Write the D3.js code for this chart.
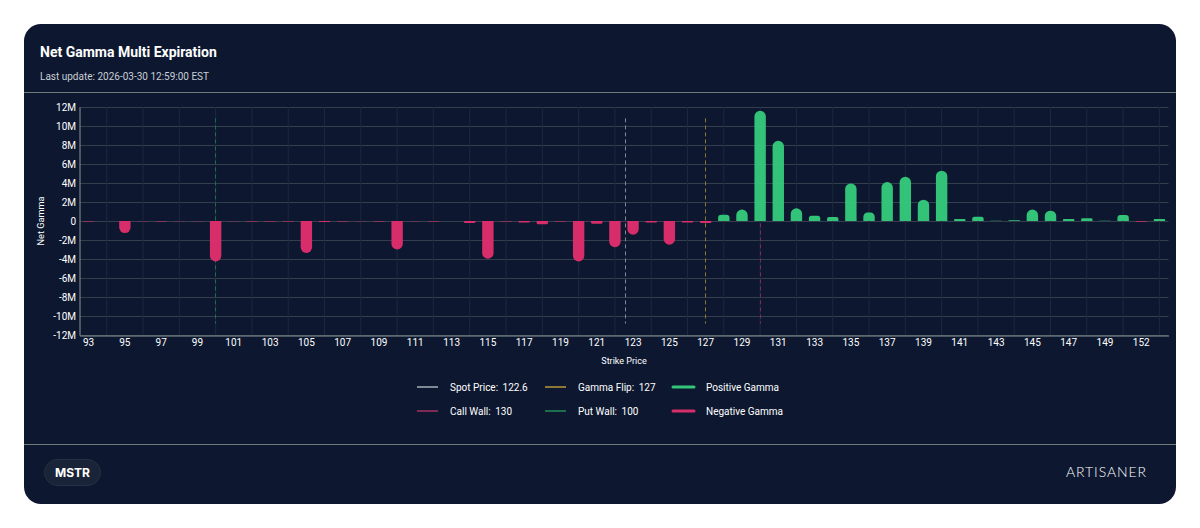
<!DOCTYPE html>
<html>
<head>
<meta charset="utf-8">
<script src="https://cdn.jsdelivr.net/npm/d3@7"></script>
<style>
html,body{margin:0;padding:0;background:#fff;overflow:hidden}
text{font-family:Roboto,sans-serif}
</style>
</head>
<body>
<script>
//values, gamma in millions
const strikes=[93,94,95,96,97,98,99,100,101,102,103,104,105,106,107,108,109,110,111,112,113,114,115,116,117,118,119,120,121,122,123,124,125,126,127,128,129,130,131,132,133,134,135,136,137,138,139,140,141,142,143,144,145,146,147,148,149,150,152,155]
const netGamma=[-0.05,0,-1.27,-0.03,-0.05,-0.03,-0.03,-4.25,-0.02,-0.05,-0.05,-0.05,-3.37,-0.1,-0.06,-0.02,-0.04,-3.0,-0.03,-0.05,0,-0.2,-3.97,-0.05,-0.15,-0.35,-0.05,-4.25,-0.3,-2.75,-1.45,-0.15,-2.5,-0.15,-0.2,0.66,1.2,11.6,8.45,1.33,0.56,0.42,3.96,0.9,4.1,4.65,2.25,5.3,0.2,0.45,0.02,0.08,1.2,1.08,0.2,0.3,0.02,0.62,-0.07,0.2]
const yTicks=[-12,-10,-8,-6,-4,-2,0,2,4,6,8,10,12]
const refLines=[
	{name:"Spot Price",value:122.6,color:"#7f8896"},
	{name:"Gamma Flip",value:127,color:"#8c7734"},
	{name:"Call Wall",value:130,color:"#7d2a55"},
	{name:"Put Wall",value:100,color:"#1c6f4c"},
]
const legendRows=[
	[refLines[0],refLines[1],{name:"Positive Gamma",color:"#33c578",thick:true}],
	[refLines[2],refLines[3],{name:"Negative Gamma",color:"#d92d6a",thick:true}],
]

const width=1200,height=528
const svg=d3.select("body").append("svg").attr("width",width).attr("height",height).style("display","block")

//card
svg.append("rect").attr("x",24).attr("y",24).attr("width",1152).attr("height",480).attr("rx",17).attr("fill","#0d1830")
svg.append("text").attr("x",40).attr("y",57).text("Net Gamma Multi Expiration")
	.attr("fill","#fff").attr("font-size",14).attr("font-weight",700)
svg.append("text").attr("x",40).attr("y",80).text("Last update: 2026-03-30 12:59:00 EST")
	.attr("fill","#c9ced6").attr("font-size",10)
for(const y of [92.5,444.5]){
	svg.append("line").attr("x1",24).attr("x2",1176).attr("y1",y).attr("y2",y).attr("stroke","#6f7c7c").attr("stroke-width",1)
}

const x=d3.scaleBand().domain(strikes).range([79.5,1168.5])
const y=d3.scaleLinear().domain([-12,12]).range([335,107])
const center=(s)=>x(s)+x.bandwidth()/2

//spot price sits between two strikes
function xValue(v){
	const i=d3.bisectLeft(strikes,v)
	if(strikes[i]==v){return center(v)}
	const a=strikes[i-1],b=strikes[i]
	return center(a)+(v-a)/(b-a)*(center(b)-center(a))
}

//grid
svg.append("g").selectAll("line").data(yTicks).join("line")
	.attr("x1",79.5).attr("x2",1168.5)
	.attr("y1",(d)=>Math.round(y(d))+0.5).attr("y2",(d)=>Math.round(y(d))+0.5)
	.attr("stroke","#343f4d").attr("stroke-width",1)
svg.append("g").selectAll("line").data(strikes.filter((d,i)=>i%2==1)).join("line")
	.attr("x1",(d)=>center(d)).attr("x2",(d)=>center(d))
	.attr("y1",107).attr("y2",335)
	.attr("stroke","#1d293c").attr("stroke-width",1)

//axes
const axisX=svg.append("g").attr("transform","translate(0,335.5)")
	.call(d3.axisBottom(x).tickValues(strikes.filter((d,i)=>i%2==0)).tickSize(0).tickPadding(3))
const axisY=svg.append("g").attr("transform","translate(79.5,0)")
	.call(d3.axisLeft(y).tickValues(yTicks).tickSize(0).tickPadding(3.5).tickFormat((d)=>d==0?"0":d+"M"))
for(const axis of [axisX,axisY]){
	axis.attr("font-family","Roboto,sans-serif")
	axis.select(".domain").attr("stroke","#8a9594").attr("stroke-width",1)
	axis.selectAll("text").attr("fill","#fff").attr("font-size",10)
}
svg.append("text").attr("transform","translate(44,221) rotate(-90)").attr("text-anchor","middle").text("Net Gamma")
	.attr("fill","#fff").attr("font-size",9.2)
svg.append("text").attr("x",624).attr("y",363.5).attr("text-anchor","middle").text("Strike Price")
	.attr("fill","#fff").attr("font-size",9)

//reference lines go under the bars
svg.append("g").selectAll("line").data(refLines).join("line")
	.attr("x1",(d)=>Math.floor(xValue(d.value))+0.5).attr("x2",(d)=>Math.floor(xValue(d.value))+0.5)
	.attr("y1",y(10.8)).attr("y2",y(-10.8))
	.attr("stroke",(d)=>d.color).attr("stroke-width",1).attr("stroke-dasharray","4,3")

//bars, only the far end is rounded
function barPath(s,v){
	const w=11.4
	const l=center(s)-w/2
	const y0=y(0)
	const h=Math.abs(y(v)-y0)
	const dir=v<0?1:-1
	const r=Math.min(w/2,h/2)
	const tip=y0+dir*h
	const sweep=v<0?0:1
	return "M"+l+","+y0+"V"+(tip-dir*r)
		+"A"+r+","+r+" 0 0,"+sweep+" "+(l+r)+","+tip
		+"H"+(l+w-r)
		+"A"+r+","+r+" 0 0,"+sweep+" "+(l+w)+","+(tip-dir*r)
		+"V"+y0+"Z"
}
svg.append("g").selectAll("path").data(strikes.map((s,i)=>({s:s,v:netGamma[i]})).filter((d)=>d.v!=0)).join("path")
	.attr("d",(d)=>barPath(d.s,d.v))
	.attr("fill",(d)=>d.v<0?"#e02e6c":"#35ca7b")
	.attr("fill-opacity",0.96)

//legend
const colX=[417,545,673]
const rowY=[387,411]
legendRows.forEach((row,r)=>{
	row.forEach((item,c)=>{
		const g=svg.append("g").attr("transform","translate("+colX[c]+","+rowY[r]+")")
		g.append("line").attr("x1",0).attr("x2",21).attr("y1",0).attr("y2",0)
			.attr("stroke",item.color).attr("stroke-width",item.thick?3:2).attr("stroke-linecap",item.thick?"round":"butt")
		const t=g.append("text").attr("x",33).attr("y",3.6).attr("fill","#fff").attr("font-size",10)
		t.append("tspan").text(item.thick?item.name:item.name+":")
		if(item.value!==undefined){
			t.append("tspan").attr("dx",4.5).text(item.value)
		}
	})
})

//footer
svg.append("rect").attr("x",44.5).attr("y",459.5).attr("width",56).attr("height",26).attr("rx",13)
	.attr("fill","#1a2438").attr("stroke","#262f44")
svg.append("text").attr("x",72.5).attr("y",477).attr("text-anchor","middle").text("MSTR")
	.attr("fill","#fff").attr("font-size",12).attr("font-weight",700).style("font-family","Inter,sans-serif")
svg.append("text").attr("x",1066).attr("y",477).text("ARTISANER")
	.attr("fill","#fff").attr("font-size",14).attr("font-weight",300)
	.attr("textLength",80).attr("lengthAdjust","spacing").style("font-family","Lato,sans-serif")
</script>
</body>
</html>
